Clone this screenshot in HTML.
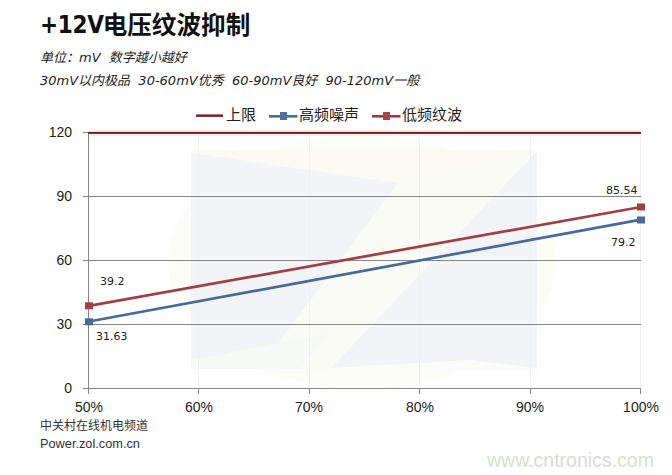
<!DOCTYPE html>
<html>
<head>
<meta charset="utf-8">
<style>
html,body{margin:0;padding:0;background:#fff;}
body{width:672px;height:475px;overflow:hidden;position:relative;font-family:"Liberation Sans","Noto Sans CJK SC",sans-serif;color:#222;}
.abs{position:absolute;white-space:nowrap;}
#title{left:40px;top:7px;font-size:24px;font-weight:bold;color:#111;line-height:36px;font-family:"DejaVu Sans","Noto Sans CJK SC",sans-serif;}
#title .lt{font-stretch:condensed;font-size:24px;letter-spacing:-0.3px;}
#title .cj{font-weight:700;font-size:24.6px;margin-left:-1px;position:relative;top:1px;}
.sub{font-style:italic;font-size:13px;color:#1e1e1e;line-height:20px;font-family:"DejaVu Sans","Noto Sans CJK SC",sans-serif;}
#s1{left:40px;top:48px;}
#s2{left:40px;top:71px;}
.leg{font-size:15px;color:#222;line-height:20px;top:105px;}
.yl{font-size:14px;color:#222;line-height:16px;text-align:right;width:40px;}
.xl{font-size:14px;color:#222;line-height:16px;text-align:center;width:60px;}
.dl{font-family:"DejaVu Sans",sans-serif;font-size:11px;color:#222;line-height:14px;}
.foot{font-size:12px;color:#333;line-height:16px;}
#f2{font-size:12.75px;}
#wm{left:487px;top:449px;font-size:19.5px;color:#d2e6c8;font-family:"Liberation Sans",sans-serif;line-height:22px;}
#wm span{color:#d7dcd3;}
</style>
</head>
<body>
<svg class="abs" style="left:0;top:0" width="672" height="475" viewBox="0 0 672 475">
  <!-- faint watermark -->
  <ellipse cx="362" cy="262" rx="194" ry="127" fill="#fcfdf7"/>
  <rect x="191" y="153" width="346" height="215" fill="#f3f4f8"/>
  <polygon points="191,150 537,150 537,152 398,183 191,153" fill="#fbfbf4"/>
  <polygon points="398,183 537,151 330,369 259,369" fill="#fafbf4"/>
  <polygon points="191,369 191,360 330,333 300,369" fill="#f7f9f6"/>
  <polygon points="330,368 470,360 537,368 537,372 330,372" fill="#fcfdf8"/>
  <!-- faint vertical gridlines -->
  <g stroke="#f0f1f1" stroke-width="1">
    <line x1="198.5" y1="133" x2="198.5" y2="388"/>
    <line x1="309.5" y1="133" x2="309.5" y2="388"/>
    <line x1="419.5" y1="133" x2="419.5" y2="388"/>
    <line x1="530.5" y1="133" x2="530.5" y2="388"/>
    <line x1="640.5" y1="133" x2="640.5" y2="388"/>
  </g>
  <rect x="89" y="130" width="552" height="6" fill="#fdeeee"/>
  <!-- horizontal gridlines -->
  <g stroke="#878787" stroke-width="1">
    <line x1="83" y1="196.5" x2="641" y2="196.5"/>
    <line x1="83" y1="260.5" x2="641" y2="260.5"/>
    <line x1="83" y1="324.5" x2="641" y2="324.5"/>
    <line x1="83" y1="388.5" x2="641" y2="388.5"/>
    <line x1="83" y1="132.5" x2="89" y2="132.5"/>
    <!-- y axis -->
    <line x1="88.5" y1="132" x2="88.5" y2="394"/>
    <!-- x ticks -->
    <line x1="198.5" y1="388" x2="198.5" y2="394"/>
    <line x1="309.5" y1="388" x2="309.5" y2="394"/>
    <line x1="419.5" y1="388" x2="419.5" y2="394"/>
    <line x1="530.5" y1="388" x2="530.5" y2="394"/>
    <line x1="640.5" y1="388" x2="640.5" y2="394"/>
  </g>
  <!-- upper limit -->
  <rect x="88" y="131.9" width="553" height="2" fill="#721e22"/>
  <!-- series -->
  <line x1="89" y1="305.8" x2="641" y2="207" stroke="#a03f45" stroke-width="2.7"/>
  <line x1="89" y1="321.5" x2="641" y2="219.6" stroke="#466a9c" stroke-width="2.7"/>
  <rect x="85" y="302.3" width="8" height="7" fill="#a03f45"/>
  <rect x="637" y="203.5" width="8" height="7" fill="#a03f45"/>
  <rect x="85" y="318.3" width="8" height="7" fill="#466a9c"/>
  <rect x="637" y="216.5" width="8" height="7" fill="#466a9c"/>
  <!-- legend symbols -->
  <rect x="196" y="114.4" width="27" height="2.5" fill="#7a2226"/>
  <rect x="269" y="115" width="28.5" height="2.6" fill="#4b6b98"/>
  <rect x="280" y="112" width="7" height="8" fill="#4d6fa8"/>
  <rect x="372" y="115" width="28.5" height="2.6" fill="#9a3c40"/>
  <rect x="383" y="112" width="7" height="8" fill="#a84245"/>
</svg>

<div id="title" class="abs"><span class="lt">+12V</span><span class="cj">电压纹波抑制</span></div>
<div id="s1" class="abs sub">单位：mV&nbsp; 数字越小越好</div>
<div id="s2" class="abs sub">30mV以内极品&nbsp; 30-60mV优秀&nbsp; 60-90mV良好&nbsp; 90-120mV一般</div>

<div class="abs leg" style="left:226px">上限</div>
<div class="abs leg" style="left:299px">高频噪声</div>
<div class="abs leg" style="left:402px">低频纹波</div>

<div class="abs yl" style="left:32px;top:124px">120</div>
<div class="abs yl" style="left:32px;top:188px">90</div>
<div class="abs yl" style="left:32px;top:252px">60</div>
<div class="abs yl" style="left:32px;top:316px">30</div>
<div class="abs yl" style="left:32px;top:380px">0</div>

<div class="abs xl" style="left:59px;top:399px">50%</div>
<div class="abs xl" style="left:169px;top:399px">60%</div>
<div class="abs xl" style="left:279px;top:399px">70%</div>
<div class="abs xl" style="left:390px;top:399px">80%</div>
<div class="abs xl" style="left:500px;top:399px">90%</div>
<div class="abs xl" style="left:611px;top:399px">100%</div>

<div class="abs dl" style="left:100px;top:275px">39.2</div>
<div class="abs dl" style="left:96px;top:330px">31.63</div>
<div class="abs dl" style="left:606px;top:184px">85.54</div>
<div class="abs dl" style="left:611px;top:236px">79.2</div>

<div class="abs foot" style="left:40px;top:418px">中关村在线机电频道</div>
<div id="f2" class="abs foot" style="left:40px;top:436px">Power.zol.com.cn</div>

<div id="wm" class="abs">www.<span>cntronics</span>.com</div>
</body>
</html>
